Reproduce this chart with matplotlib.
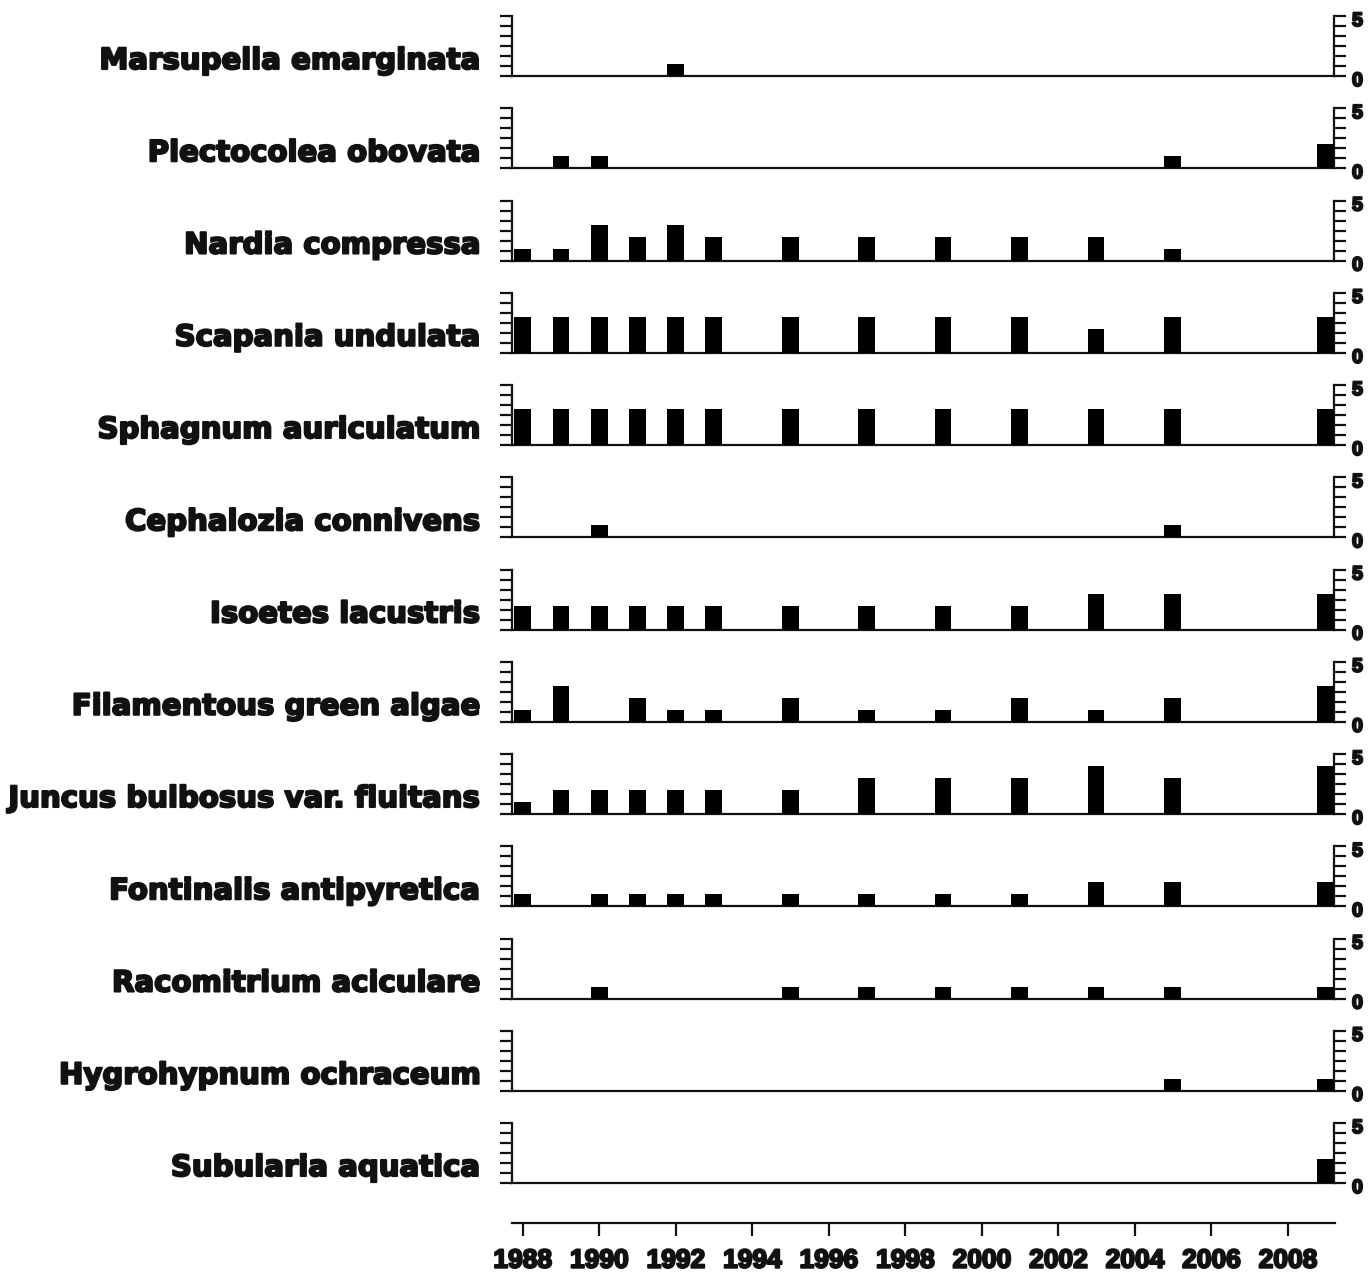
import numpy as np
import matplotlib
matplotlib.use("Agg")
import matplotlib.pyplot as plt
from matplotlib import patheffects as pe
from matplotlib.transforms import blended_transform_factory

# ---------------- data ----------------
years = [1988, 1989, 1990, 1991, 1992, 1993, 1995, 1997, 1999, 2001, 2003, 2005, 2009]

species = [
    "Marsupella emarginata",
    "Plectocolea obovata",
    "Nardia compressa",
    "Scapania undulata",
    "Sphagnum auriculatum",
    "Cephalozia connivens",
    "Isoetes lacustris",
    "Filamentous green algae",
    "Juncus bulbosus var. fluitans",
    "Fontinalis antipyretica",
    "Racomitrium aciculare",
    "Hygrohypnum ochraceum",
    "Subularia aquatica",
]

marsupella = [0, 0, 0, 0, 1, 0, 0, 0, 0, 0, 0, 0, 0]
plectocolea = [0, 1, 1, 0, 0, 0, 0, 0, 0, 0, 0, 1, 2]
nardia = [1, 1, 3, 2, 3, 2, 2, 2, 2, 2, 2, 1, 0]
scapania = [3, 3, 3, 3, 3, 3, 3, 3, 3, 3, 2, 3, 3]
sphagnum = [3, 3, 3, 3, 3, 3, 3, 3, 3, 3, 3, 3, 3]
cephalozia = [0, 0, 1, 0, 0, 0, 0, 0, 0, 0, 0, 1, 0]
isoetes = [2, 2, 2, 2, 2, 2, 2, 2, 2, 2, 3, 3, 3]
filamentous = [1, 3, 0, 2, 1, 1, 2, 1, 1, 2, 1, 2, 3]
juncus = [1, 2, 2, 2, 2, 2, 2, 3, 3, 3, 4, 3, 4]
fontinalis = [1, 0, 1, 1, 1, 1, 1, 1, 1, 1, 2, 2, 2]
racomitrium = [0, 0, 1, 0, 0, 0, 1, 1, 1, 1, 1, 1, 1]
hygrohypnum = [0, 0, 0, 0, 0, 0, 0, 0, 0, 0, 0, 1, 1]
subularia = [0, 0, 0, 0, 0, 0, 0, 0, 0, 0, 0, 0, 2]

series = [marsupella, plectocolea, nardia, scapania, sphagnum, cephalozia,
          isoetes, filamentous, juncus, fontinalis, racomitrium, hygrohypnum,
          subularia]

year_ticks = list(range(1988, 2009, 2))
y_label_values = [0, 5]
y_labels = ["0", "5"]

# ---------------- layout ----------------
plt.rcParams["font.family"] = ["Liberation Sans", "DejaVu Sans"]
plt.rcParams["font.weight"] = "bold"

W, H = 1370, 1273
fig = plt.figure(figsize=(W / 100, H / 100), dpi=100)
fig.patch.set_facecolor("white")

left_px, right_px = 512, 1334
panel_h = 60
first_base = 76
row_step = 92.25
xlim = (1987.72, 2009.23)
lw = 1.6
ink = "#111111"
stroke = [pe.withStroke(linewidth=1.5, foreground=ink)]
label_right_px = 480

for i, (name, vals) in enumerate(zip(species, series)):
    base = first_base + i * row_step
    ax = fig.add_axes([left_px / W, 1 - base / H,
                       (right_px - left_px) / W, panel_h / H])
    ax.bar(years, vals, width=0.44, color="black", edgecolor="none", zorder=3)
    ax.set_xlim(*xlim)
    ax.set_ylim(0, 5)
    ax.patch.set_visible(False)
    for s in ["left", "right", "bottom"]:
        ax.spines[s].set_linewidth(lw)
        ax.spines[s].set_color(ink)
    ax.spines["top"].set_visible(False)
    ax.set_xticks([])
    ax.set_yticks(np.linspace(0, 5, 7))
    ax.tick_params(axis="y", which="both", left=True, right=True,
                   labelleft=False, labelright=False, direction="out",
                   length=8.5, width=lw, color=ink)
    for v, lbl in zip(y_label_values, y_labels):
        ax.annotate(lbl, xy=(1, v), xycoords=("axes fraction", "data"),
                    xytext=(13, -4), textcoords="offset points",
                    ha="left", va="center", fontsize=14,
                    family="Liberation Sans", fontweight="bold", color=ink,
                    path_effects=stroke)
    tr = blended_transform_factory(fig.transFigure, ax.transAxes)
    ax.text(label_right_px / W, 7 / panel_h, name, transform=tr,
            ha="right", va="baseline", fontsize=21, fontweight="bold",
            family="DejaVu Sans", color=ink, path_effects=stroke)

# bottom year axis
axb_y = 1223
axb = fig.add_axes([left_px / W, 1 - axb_y / H,
                    (right_px - left_px + 1) / W, 0.01])
axb.set_xlim(*xlim)
axb.patch.set_visible(False)
for s in ["left", "right", "top"]:
    axb.spines[s].set_visible(False)
axb.spines["bottom"].set_linewidth(lw)
axb.spines["bottom"].set_color(ink)
axb.set_yticks([])
axb.set_xticks(year_ticks)
axb.set_xticklabels([str(y) for y in year_ticks])
axb.tick_params(axis="x", direction="out", length=9.5, width=lw, color=ink,
                pad=9, labelsize=19, labelcolor=ink,
                labelfontfamily="Liberation Sans")
for lab in axb.get_xticklabels():
    lab.set_path_effects(stroke)

fig.savefig("out.png", dpi=100)
